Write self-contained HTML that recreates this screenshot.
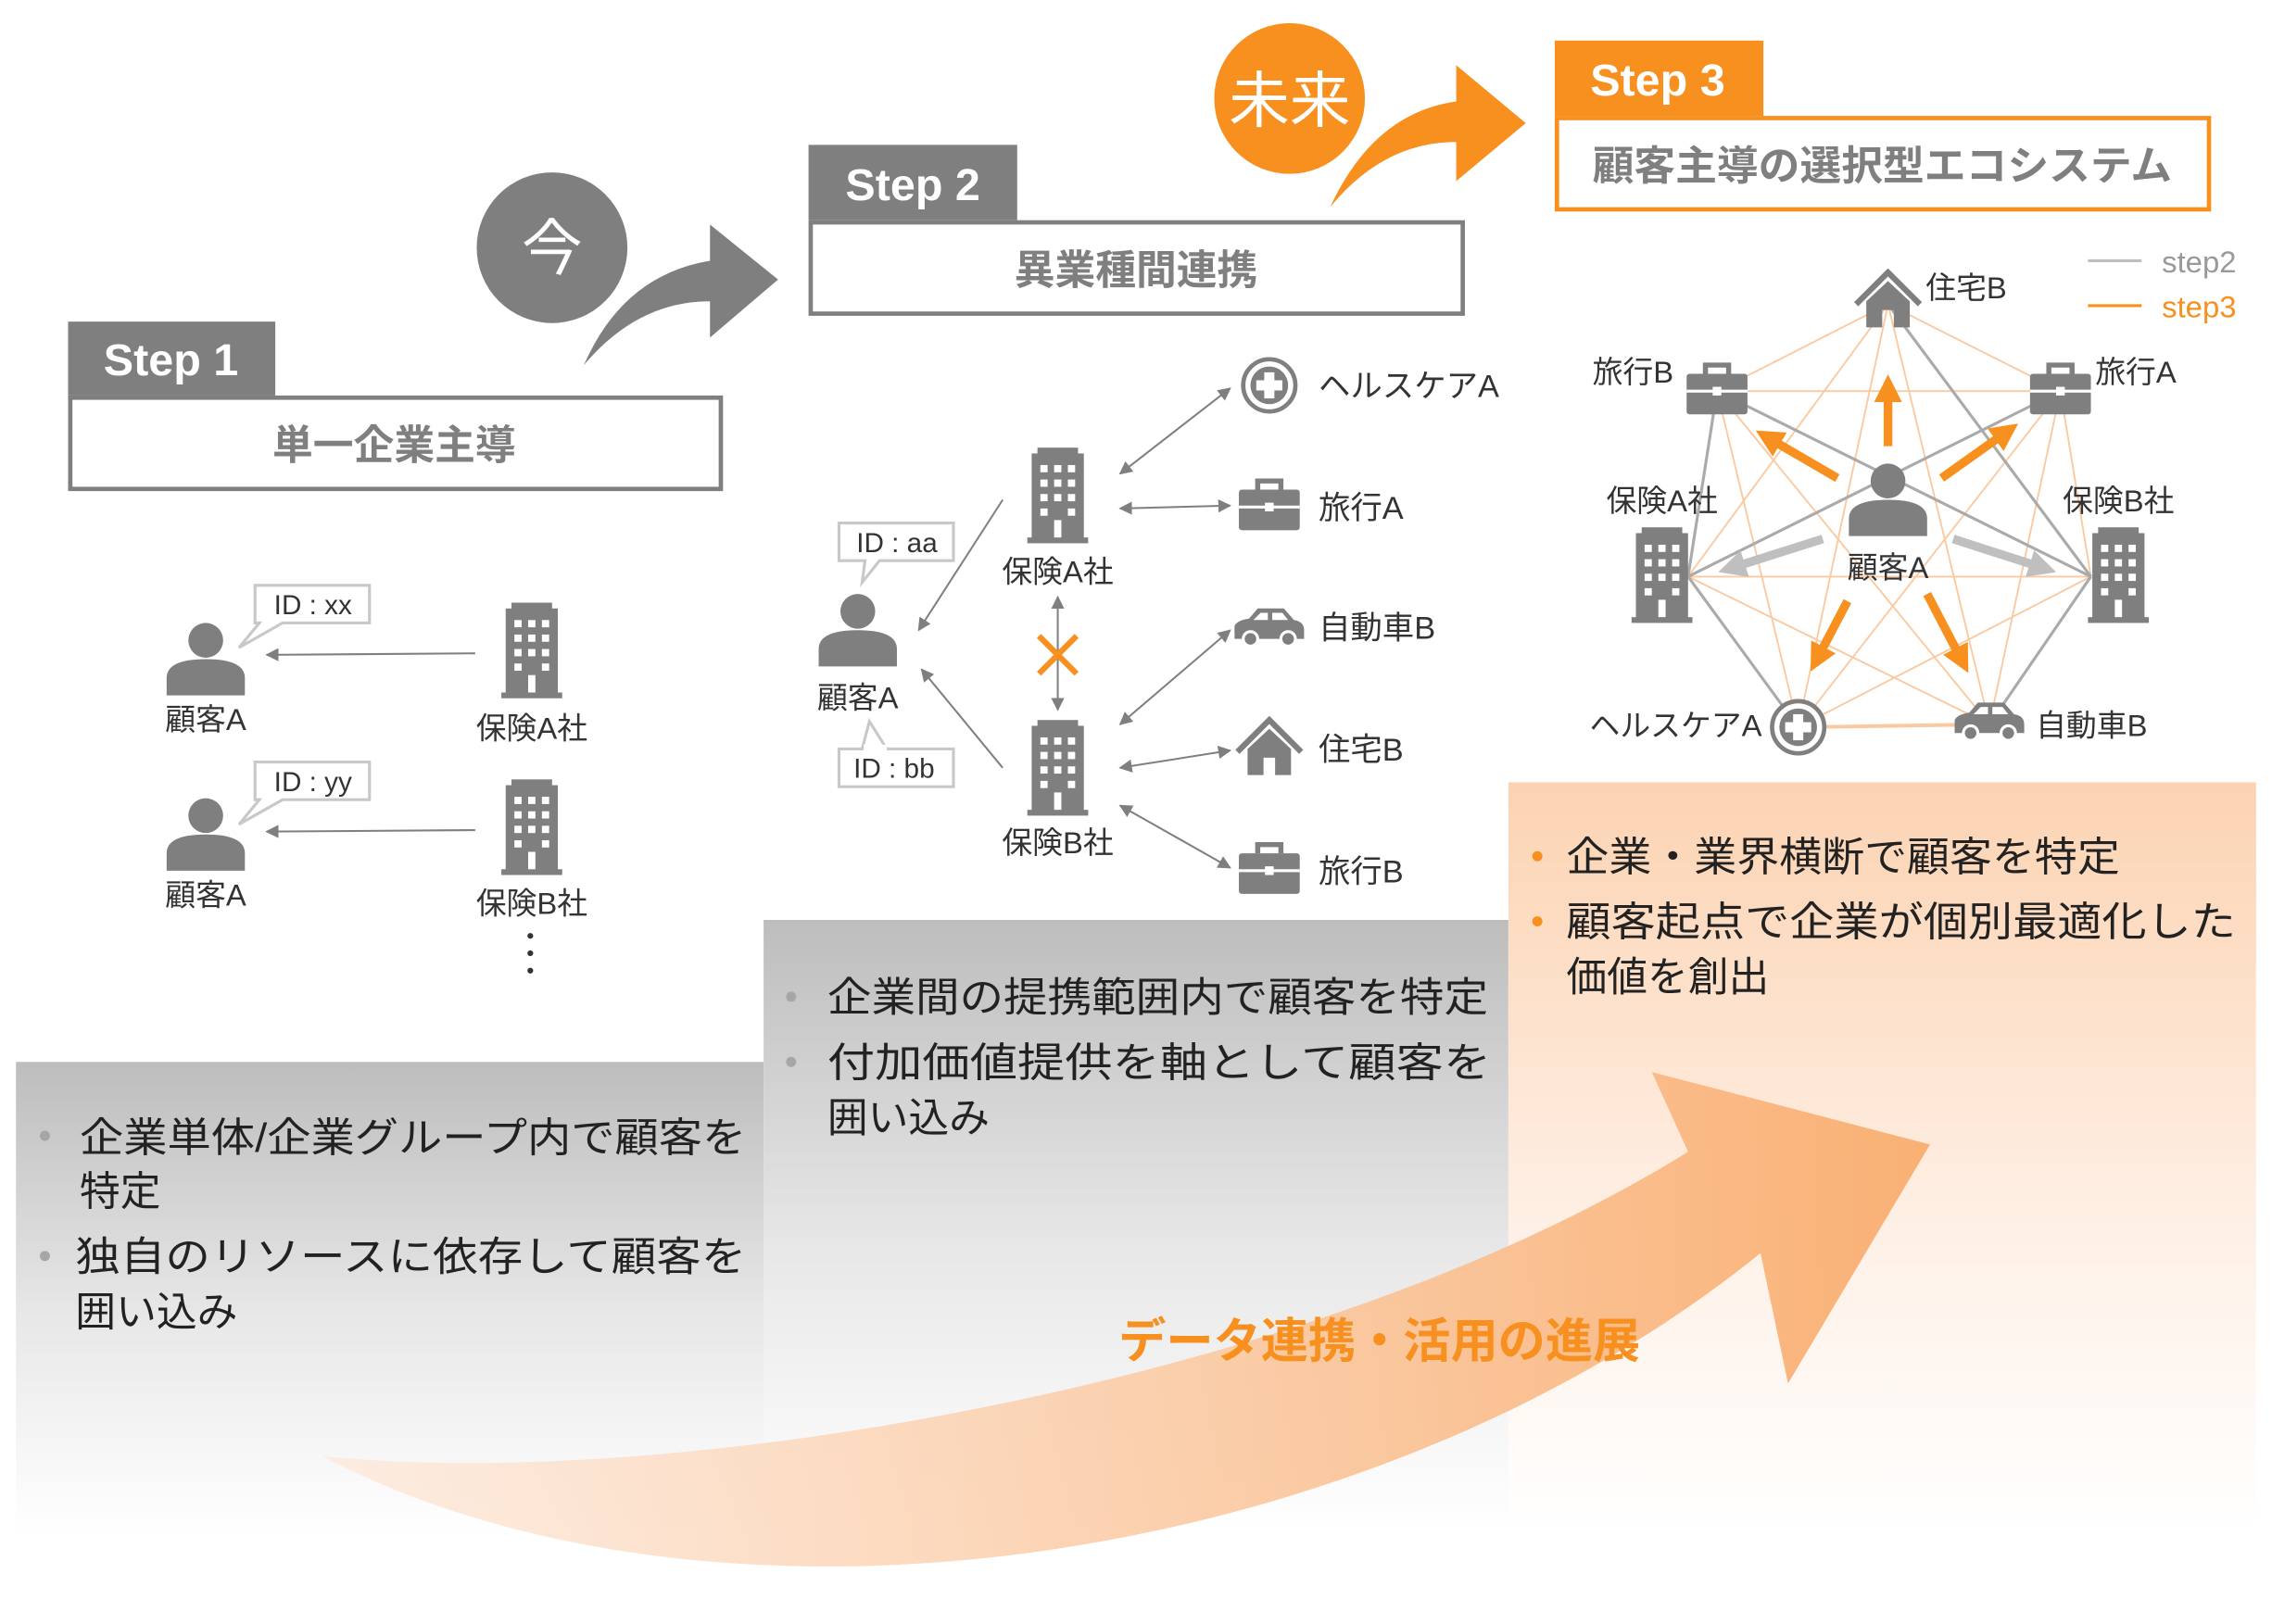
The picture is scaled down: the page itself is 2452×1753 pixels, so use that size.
<!DOCTYPE html>
<html><head><meta charset="utf-8"><style>html,body{margin:0;padding:0;background:#fff}svg{display:block}
text{font-family:"Liberation Sans","Noto Sans CJK JP",sans-serif}</style></head><body>
<svg width="2452" height="1753" viewBox="0 0 1568 1121" preserveAspectRatio="none" xmlns="http://www.w3.org/2000/svg">
<defs>
<linearGradient id="gg" x1="0" y1="0" x2="0" y2="1"><stop offset="0" stop-color="#bdbdbd"/><stop offset="0.55" stop-color="#e8e8e8"/><stop offset="1" stop-color="#ffffff"/></linearGradient>
<linearGradient id="og" x1="0" y1="0" x2="0" y2="1"><stop offset="0" stop-color="#fcd3b2"/><stop offset="0.6" stop-color="#fef0e6"/><stop offset="1" stop-color="#ffffff"/></linearGradient>
<linearGradient id="ag" x1="0" y1="0" x2="1" y2="0"><stop offset="0" stop-color="#fde9db" stop-opacity="0.8"/><stop offset="1" stop-color="#f9b074"/></linearGradient>
<marker id="ah" viewBox="0 0 10 10" refX="9" refY="5" markerWidth="7" markerHeight="7" orient="auto-start-reverse"><path d="M0,0 L10,5 L0,10 z" fill="#7f7f7f"/></marker>
<marker id="ao" viewBox="0 0 10 10" refX="5" refY="5" markerWidth="3.2" markerHeight="3.2" orient="auto"><path d="M0,0 L10,5 L0,10 z" fill="#f7901e"/></marker>
<marker id="ag2" viewBox="0 0 10 10" refX="5" refY="5" markerWidth="3.2" markerHeight="3.2" orient="auto"><path d="M0,0 L10,5 L0,10 z" fill="#bfbfbf"/></marker>
<g id="bld"><rect x="-18" y="-30" width="36" height="60" fill="#7f7f7f"/><rect x="-14" y="-34" width="28" height="5" fill="#7f7f7f"/><rect x="-21" y="28" width="42" height="4" fill="#7f7f7f"/>
<g fill="#fff"><rect x="-12" y="-22" width="5" height="5"/><rect x="-2.5" y="-22" width="5" height="5"/><rect x="7" y="-22" width="5" height="5"/>
<rect x="-12" y="-12" width="5" height="5"/><rect x="-2.5" y="-12" width="5" height="5"/><rect x="7" y="-12" width="5" height="5"/>
<rect x="-12" y="-2" width="5" height="5"/><rect x="-2.5" y="-2" width="5" height="5"/><rect x="7" y="-2" width="5" height="5"/>
<rect x="-12" y="8" width="5" height="5"/><rect x="-2.5" y="16" width="5" height="12"/><rect x="7" y="8" width="5" height="5"/></g></g>
<g id="per"><circle cx="0" cy="-14" r="12" fill="#7f7f7f"/><path d="M-27,24 L-27,12 Q-27,-1 0,-1 Q27,-1 27,12 L27,24 Z" fill="#7f7f7f"/></g>
<g id="brf"><rect x="-21" y="-12" width="42" height="28" rx="2" fill="#7f7f7f"/><path d="M-8,-12 L-8,-18 L8,-18 L8,-12" fill="none" stroke="#7f7f7f" stroke-width="3.5"/><rect x="-21" y="-1" width="42" height="2" fill="#fff"/><rect x="-3" y="-3" width="6" height="6" fill="#fff"/></g>
<g id="hse"><path d="M-22,2 L0,-20 L22,2" fill="none" stroke="#7f7f7f" stroke-width="4"/><path d="M-15,0 L0,-14 L15,0 L15,18 L4,18 L4,6 L-4,6 L-4,18 L-15,18 Z" fill="#7f7f7f"/></g>
<g id="car"><path d="M-24,8 L-24,-1 Q-22,-5 -14,-6 L-8,-13 L10,-13 L17,-5 Q24,-4 24,2 L24,8 Z" fill="#7f7f7f"/><path d="M-6,-10 L-1,-10 L-1,-5 L-11,-5 Z M2,-10 L9,-10 L13,-5 L2,-5 Z" fill="#fff"/><circle cx="-13" cy="8" r="5" fill="#7f7f7f" stroke="#fff" stroke-width="2"/><circle cx="13" cy="8" r="5" fill="#7f7f7f" stroke="#fff" stroke-width="2"/></g>
<g id="pls"><circle r="18" fill="#fff" stroke="#7f7f7f" stroke-width="3"/><circle r="13" fill="#7f7f7f"/><rect x="-3.5" y="-9" width="7" height="18" fill="#fff"/><rect x="-9" y="-3.5" width="18" height="7" fill="#fff"/></g>
</defs>

<!-- panels -->
<rect x="11" y="733" width="516" height="325" fill="url(#gg)"/>
<rect x="527" y="635" width="514" height="423" fill="url(#gg)"/>
<rect x="1041" y="540" width="516" height="518" fill="url(#og)"/>

<!-- big arrow -->
<path d="M222,1005 C450,1030 900,960 1165,795 L1140,740 L1332,790 L1234,955 L1215,865 C950,1080 500,1150 222,1005 Z" fill="url(#ag)"/>
<text x="952" y="937" font-size="33" font-weight="bold" fill="#f7901e" text-anchor="middle" textLength="360" lengthAdjust="spacingAndGlyphs">データ連携・活用の進展</text>

<!-- panel texts -->
<g font-size="28" fill="#222">
<circle cx="31" cy="784" r="3.5" fill="#a6a6a6"/><text x="55" y="795" textLength="460" lengthAdjust="spacingAndGlyphs">企業単体/企業グループ内で顧客を</text>
<text x="55" y="832">特定</text>
<circle cx="31" cy="867" r="3.5" fill="#a6a6a6"/><text x="52" y="877" textLength="463" lengthAdjust="spacingAndGlyphs">独自のリソースに依存して顧客を</text>
<text x="52" y="915">囲い込み</text>
<circle cx="546" cy="688" r="3.5" fill="#a6a6a6"/><text x="571" y="698" textLength="456" lengthAdjust="spacingAndGlyphs">企業間の提携範囲内で顧客を特定</text>
<circle cx="546" cy="733" r="3.5" fill="#a6a6a6"/><text x="571" y="743" textLength="458" lengthAdjust="spacingAndGlyphs">付加価値提供を軸として顧客を</text>
<text x="571" y="781">囲い込み</text>
<circle cx="1061" cy="591" r="3.5" fill="#f7901e"/><text x="1081" y="601" textLength="382" lengthAdjust="spacingAndGlyphs">企業・業界横断で顧客を特定</text>
<circle cx="1061" cy="636" r="3.5" fill="#f7901e"/><text x="1081" y="646" textLength="462" lengthAdjust="spacingAndGlyphs">顧客起点で企業が個別最適化した</text>
<text x="1081" y="684">価値を創出</text>
</g>

<!-- headers -->
<rect x="47" y="222" width="143" height="51" fill="#7f7f7f"/>
<text x="118" y="259" font-size="31" font-weight="bold" fill="#fff" text-anchor="middle">Step 1</text>
<rect x="48.5" y="274.5" width="449" height="63" fill="#fff" stroke="#7f7f7f" stroke-width="3"/>
<text x="272" y="317" font-size="28" font-weight="bold" fill="#7f7f7f" text-anchor="middle">単一企業主導</text>

<rect x="558" y="100" width="144" height="52" fill="#7f7f7f"/>
<text x="630" y="138" font-size="31" font-weight="bold" fill="#fff" text-anchor="middle">Step 2</text>
<rect x="559.5" y="153.5" width="450" height="63" fill="#fff" stroke="#7f7f7f" stroke-width="3"/>
<text x="784" y="196" font-size="28" font-weight="bold" fill="#7f7f7f" text-anchor="middle">異業種間連携</text>

<rect x="1073" y="28" width="144" height="52" fill="#f7901e"/>
<text x="1144" y="66" font-size="31" font-weight="bold" fill="#fff" text-anchor="middle">Step 3</text>
<rect x="1074.5" y="81.5" width="450" height="63" fill="#fff" stroke="#f7901e" stroke-width="3"/>
<text x="1299" y="124" font-size="28" font-weight="bold" fill="#7f7f7f" text-anchor="middle" textLength="400" lengthAdjust="spacingAndGlyphs">顧客主導の選択型エコシステム</text>

<circle cx="381" cy="171" r="52" fill="#7f7f7f"/>
<text x="381" y="186" font-size="42" fill="#fff" text-anchor="middle">今</text>
<path d="M403,252 Q430,190 490,180 L490,155 L537,193 L490,233 L490,208 Q440,208 403,252 Z" fill="#7f7f7f"/>
<circle cx="890" cy="68" r="52" fill="#f7901e"/>
<text x="890" y="84" font-size="42" fill="#fff" text-anchor="middle">未来</text>
<path d="M918,143 Q948,78 1005,70 L1005,45 L1053,85 L1005,125 L1005,98 Q955,98 918,143 Z" fill="#f7901e"/>

<!-- step1 diagram -->
<g stroke="#7f7f7f" stroke-width="1.3" fill="none" marker-end="url(#ah)"><line x1="328" y1="451" x2="184" y2="452"/><line x1="328" y1="573" x2="184" y2="574"/></g>
<use href="#per" x="142" y="456"/><use href="#per" x="142" y="577"/>
<path d="M176,404 h79 v26 h-60 l-30,17 l14,-17 h-3 z" fill="#fff" stroke="#c8c8c8" stroke-width="2"/>
<path d="M176,526 h79 v26 h-60 l-30,17 l14,-17 h-3 z" fill="#fff" stroke="#c8c8c8" stroke-width="2"/>
<g font-size="19" fill="#333" text-anchor="middle"><text x="216" y="424">ID : xx</text><text x="216" y="546">ID : yy</text></g>
<use href="#bld" x="367" y="450"/><use href="#bld" x="367" y="572"/>
<g font-size="21" fill="#333" text-anchor="middle"><text x="142" y="504">顧客A</text><text x="142" y="625">顧客A</text><text x="367" y="510">保険A社</text><text x="367" y="631">保険B社</text></g>
<g fill="#333"><circle cx="366" cy="646" r="2"/><circle cx="366" cy="658" r="2"/><circle cx="366" cy="670" r="2"/></g>

<!-- step2 diagram -->
<use href="#per" x="592" y="436"/>
<path d="M579,361 h79 v26 h-51 l-12,15 l2,-15 h-18 z" fill="#fff" stroke="#c8c8c8" stroke-width="2"/>
<path d="M579,517 h79 v26 h-79 z M595,517 l5,-19 l12,19" fill="#fff" stroke="#c8c8c8" stroke-width="2"/>
<rect x="596" y="514" width="16" height="4" fill="#fff"/>
<g font-size="19" fill="#333" text-anchor="middle"><text x="619" y="381">ID : aa</text><text x="617" y="537">ID : bb</text></g>
<use href="#bld" x="730" y="343"/><use href="#bld" x="730" y="531"/>
<g stroke="#7f7f7f" stroke-width="1.3" fill="none" marker-end="url(#ah)">
<line x1="692" y1="345" x2="634" y2="435"/><line x1="692" y1="530" x2="636" y2="462"/>
</g>
<g stroke="#7f7f7f" stroke-width="1.3" fill="none" marker-end="url(#ah)" marker-start="url(#ah)">
<line x1="730" y1="412" x2="730" y2="490"/>
<line x1="773" y1="327" x2="849" y2="268"/><line x1="773" y1="351" x2="849" y2="349"/>
<line x1="773" y1="500" x2="849" y2="435"/><line x1="773" y1="530" x2="849" y2="518"/><line x1="773" y1="556" x2="849" y2="599"/>
</g>
<path d="M717,439 L743,465 M743,439 L717,465" stroke="#f7901e" stroke-width="4"/>
<use href="#pls" x="876" y="266"/><use href="#brf" x="876" y="350"/><use href="#car" x="876" y="433"/><use href="#hse" x="876" y="517"/><use href="#brf" x="876" y="601"/>
<g font-size="22" fill="#333"><text x="910" y="274">ヘルスケアA</text><text x="910" y="358">旅行A</text><text x="910" y="441">自動車B</text><text x="910" y="525">住宅B</text><text x="910" y="609">旅行B</text></g>
<g font-size="21" fill="#333" text-anchor="middle"><text x="592" y="489">顧客A</text><text x="730" y="402">保険A社</text><text x="730" y="589">保険B社</text></g>

<!-- step3 network -->
<g stroke="#fbc9a0" stroke-width="1.2">
<line x1="1303" y1="210" x2="1185" y2="270"/><line x1="1303" y1="210" x2="1422" y2="270"/><line x1="1303" y1="210" x2="1165" y2="398"/><line x1="1303" y1="210" x2="1241" y2="502"/><line x1="1303" y1="210" x2="1373" y2="500"/>
<line x1="1185" y1="270" x2="1422" y2="270"/><line x1="1185" y1="270" x2="1165" y2="398"/><line x1="1185" y1="270" x2="1241" y2="502"/><line x1="1185" y1="270" x2="1373" y2="500"/><line x1="1185" y1="270" x2="1443" y2="398"/>
<line x1="1422" y1="270" x2="1443" y2="398"/><line x1="1422" y1="270" x2="1241" y2="502"/><line x1="1422" y1="270" x2="1373" y2="500"/>
<line x1="1165" y1="398" x2="1443" y2="398"/><line x1="1165" y1="398" x2="1373" y2="500"/><line x1="1443" y1="398" x2="1241" y2="502"/>
<line x1="1241" y1="502" x2="1373" y2="500" stroke-width="2.5"/><line x1="1165" y1="398" x2="1241" y2="502"/><line x1="1443" y1="398" x2="1373" y2="500"/>
</g>
<g stroke="#aaaaaa" stroke-width="2">
<line x1="1165" y1="398" x2="1422" y2="270"/><line x1="1185" y1="270" x2="1443" y2="398"/><line x1="1303" y1="210" x2="1443" y2="398"/><line x1="1165" y1="398" x2="1241" y2="502"/><line x1="1443" y1="398" x2="1373" y2="500"/><line x1="1185" y1="270" x2="1165" y2="398"/>
</g>
<g stroke="#f7901e" stroke-width="6" marker-end="url(#ao)">
<line x1="1303" y1="308" x2="1303" y2="268"/><line x1="1268" y1="330" x2="1220" y2="302"/><line x1="1340" y1="330" x2="1385" y2="298"/><line x1="1275" y1="415" x2="1254" y2="455"/><line x1="1330" y1="410" x2="1354" y2="456"/>
</g>
<g stroke="#bfbfbf" stroke-width="6" marker-end="url(#ag2)"><line x1="1258" y1="372" x2="1195" y2="392"/><line x1="1348" y1="372" x2="1410" y2="392"/></g>
<use href="#hse" x="1303" y="208"/><use href="#brf" x="1185" y="270"/><use href="#brf" x="1422" y="270"/>
<use href="#bld" x="1147" y="398"/><use href="#bld" x="1462" y="398"/>
<use href="#pls" x="1241" y="502"/><use href="#car" x="1373" y="498"/>
<use href="#per" x="1303" y="346"/>
<g font-size="21" fill="#333"><text x="1329" y="206">住宅B</text><text x="1099" y="264">旅行B</text><text x="1446" y="264">旅行A</text>
<text x="1147" y="353" text-anchor="middle">保険A社</text><text x="1462" y="353" text-anchor="middle">保険B社</text>
<text x="1303" y="399" text-anchor="middle">顧客A</text><text x="1216" y="508" text-anchor="end">ヘルスケアA</text><text x="1405" y="508">自動車B</text></g>
<line x1="1441" y1="180" x2="1478" y2="180" stroke="#bfbfbf" stroke-width="2"/><line x1="1441" y1="211" x2="1478" y2="211" stroke="#f7901e" stroke-width="2"/>
<text x="1492" y="188" font-size="21" fill="#999">step2</text><text x="1492" y="219" font-size="21" fill="#f7901e">step3</text>
</svg>
</body></html>
